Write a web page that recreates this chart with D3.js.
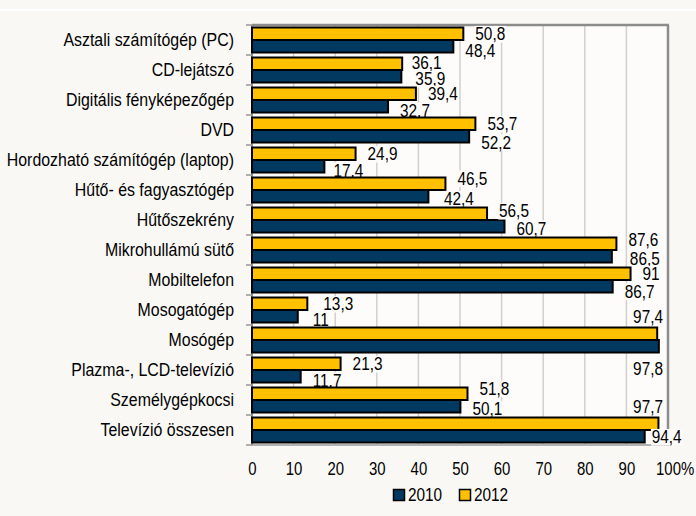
<!DOCTYPE html>
<html>
<head>
<meta charset="utf-8">
<script src="https://cdn.jsdelivr.net/npm/d3@7"></script>
<style>
  html, body { margin: 0; padding: 0; background: #faf8f5; }
  svg { display: block; }
  text { font-family: "Liberation Sans", Arial, sans-serif; fill: #000; }
</style>
</head>
<body>
<svg id="chart" width="696" height="516"></svg>
<script>
const categories = [
  "Asztali számítógép (PC)", "CD-lejátszó", "Digitális fényképezőgép", "DVD",
  "Hordozható számítógép (laptop)", "Hűtő- és fagyasztógép", "Hűtőszekrény",
  "Mikrohullámú sütő", "Mobiltelefon", "Mosogatógép", "Mosógép",
  "Plazma-, LCD-televízió", "Személygépkocsi", "Televízió összesen"
];
const values2010 = [48.4, 35.9, 32.7, 52.2, 17.4, 42.4, 60.7, 86.5, 86.7, 11, 97.8, 11.7, 50.1, 94.4];
const values2012 = [50.8, 36.1, 39.4, 53.7, 24.9, 46.5, 56.5, 87.6, 91, 13.3, 97.4, 21.3, 51.8, 97.7];
const xTicks = [0, 10, 20, 30, 40, 50, 60, 70, 80, 90, 100];
const seriesNames = ["2012", "2010"];

const color = { "2010": "#023961", "2012": "#ffc000" };
const squeeze = 0.83;    // the original font is a condensed one
const catSqueeze = 0.86;

// label nudges where Excel moved labels around (index -> offsets)
const nudge2012 = { 1: { dx: -2.5, dy: -1.5 }, 5: { dy: -5.5 }, 6: { dy: -3 }, 7: { dy: -4 },
  9: { dx: 4 }, 10: { end: true, dy: -17 }, 12: { dy: -5.5 }, 13: { end: true, dy: -17 } };
const nudge2010 = { 1: { dx: 2, dy: -1.5 }, 3: { dy: 2 }, 4: { dx: -3 }, 5: { dx: 3.5, dy: -1.5 },
  6: { dy: -2 }, 7: { dx: 6, dy: -1.5 }, 8: { dy: 1 }, 9: { dx: 3, dy: -1 },
  10: { end: true, dy: 18 }, 12: { dy: -1.5 }, 13: { dx: -5, dy: -3.5 } };

const svg = d3.select("#chart");
const margin = { top: 25, left: 252, right: 28, bottom: 71 };
const width = 696 - margin.left - margin.right;
const height = 516 - margin.top - margin.bottom;

// thin white band at the top
svg.append("rect").attr("x", 0).attr("y", 9).attr("width", 696).attr("height", 2).attr("fill", "#ffffff");

const g = svg.append("g").attr("transform", `translate(${margin.left},${margin.top})`);

const x = d3.scaleLinear().domain([0, 100]).range([0, width]);
const y0 = d3.scaleBand().domain(categories).range([0, height]).padding(0);
const y1 = d3.scaleBand().domain(seriesNames).range([0, y0.bandwidth()]).paddingInner(0).paddingOuter(0.2);

g.append("rect").attr("width", width).attr("height", height).attr("fill", "#fdfcfa");

// gridlines
g.selectAll("line.grid")
  .data(xTicks.slice(1, -1))
  .join("line")
  .attr("class", "grid")
  .attr("x1", d => x(d)).attr("x2", d => x(d))
  .attr("y1", 0).attr("y2", height)
  .attr("stroke", "#d2d0cd").attr("stroke-width", 1.5);

// frame
g.append("line").attr("x1", 0).attr("x2", width + 1).attr("y1", 0).attr("y2", 0)
  .attr("stroke", "#8c8c8c").attr("stroke-width", 2.5);
g.append("line").attr("x1", width).attr("x2", width).attr("y1", 0).attr("y2", height + 1)
  .attr("stroke", "#8c8c8c").attr("stroke-width", 2.5);
g.append("line").attr("x1", 0).attr("x2", width).attr("y1", height).attr("y2", height)
  .attr("stroke", "#b4b2b0").attr("stroke-width", 2);

// left axis with ticks at category boundaries
g.append("line").attr("x1", 0).attr("x2", 0).attr("y1", 0).attr("y2", height)
  .attr("stroke", "#8c8c8c").attr("stroke-width", 2);
g.selectAll("line.ytick")
  .data(d3.range(categories.length + 1))
  .join("line")
  .attr("class", "ytick")
  .attr("x1", -6).attr("x2", 0)
  .attr("y1", i => i * y0.step()).attr("y2", i => i * y0.step())
  .attr("stroke", "#9a9896").attr("stroke-width", 1.5);

// category labels
g.selectAll("text.cat")
  .data(categories)
  .join("text")
  .attr("class", "cat")
  .attr("transform", d => `translate(-18,${y0(d) + y0.bandwidth() / 2}) scale(${catSqueeze},1)`)
  .attr("dy", "0.35em")
  .attr("text-anchor", "end")
  .attr("font-size", "18.5px")
  .text(d => d);

const fmt = v => String(v).replace(".", ",");

// bars + labels, one group per row so later rows cover earlier labels
categories.forEach((cat, i) => {
  const row = g.append("g").attr("transform", `translate(0,${y0(cat)})`);
  const items = [
    { s: "2012", v: values2012[i], n: nudge2012[i] || {}, base: 0 },
    { s: "2010", v: values2010[i], n: nudge2010[i] || {}, base: 4 }
  ];
  items.forEach(d => {
    row.append("rect")
      .attr("x", 0)
      .attr("y", y1(d.s))
      .attr("width", x(d.v))
      .attr("height", y1.bandwidth())
      .attr("fill", color[d.s])
      .attr("stroke", "#000")
      .attr("stroke-width", 2);
  });
  items.forEach(d => {
    const cy = y1(d.s) + y1.bandwidth() / 2 + d.base + (d.n.dy || 0);
    const lx = d.n.end ? x(100) - 5 : x(d.v) + 12 + (d.n.dx || 0);
    const lg = row.append("g").attr("transform", `translate(${lx},${cy}) scale(${squeeze},1)`);
    const t = lg.append("text")
      .attr("dy", "0.35em")
      .attr("text-anchor", d.n.end ? "end" : "start")
      .attr("font-size", "18.5px")
      .text(fmt(d.v));
    const bb = t.node().getBBox();
    lg.insert("rect", "text")
      .attr("x", bb.x - 1).attr("y", bb.y + 2)
      .attr("width", bb.width + 2).attr("height", bb.height - 4)
      .attr("fill", "#fdfcfa");
  });
});

// x axis
const xAxis = g.append("g")
  .attr("transform", `translate(0,${height})`)
  .call(d3.axisBottom(x).tickValues(xTicks).tickSize(0).tickPadding(17).tickFormat(d => d));
xAxis.select(".domain").remove();
xAxis.selectAll("text")
  .attr("font-size", "18px")
  .attr("transform", `scale(${squeeze},1)`)
  .style("font-family", null);
// "100%" : the number stays centred on its tick, the % sign hangs to the right
xAxis.selectAll(".tick").filter(d => d === 100).select("text").each(function () {
  const w = this.getComputedTextLength();
  d3.select(this).attr("text-anchor", "start").attr("x", -w / 2).text("100%");
});

// legend
const legendItems = ["2010", "2012"];
const legend = svg.append("g").attr("transform", "translate(393,495)");
legendItems.forEach((s, i) => {
  const lg = legend.append("g").attr("transform", `translate(${i * 66},0)`);
  lg.append("rect")
    .attr("x", 0.5).attr("y", -5.5).attr("width", 11).attr("height", 11)
    .attr("fill", color[s]).attr("stroke", "#000").attr("stroke-width", 1.5);
  lg.append("text")
    .attr("transform", `translate(15,0) scale(${squeeze},1)`)
    .attr("dy", "0.35em")
    .attr("font-size", "18.5px")
    .text(s);
});
</script>
</body>
</html>
